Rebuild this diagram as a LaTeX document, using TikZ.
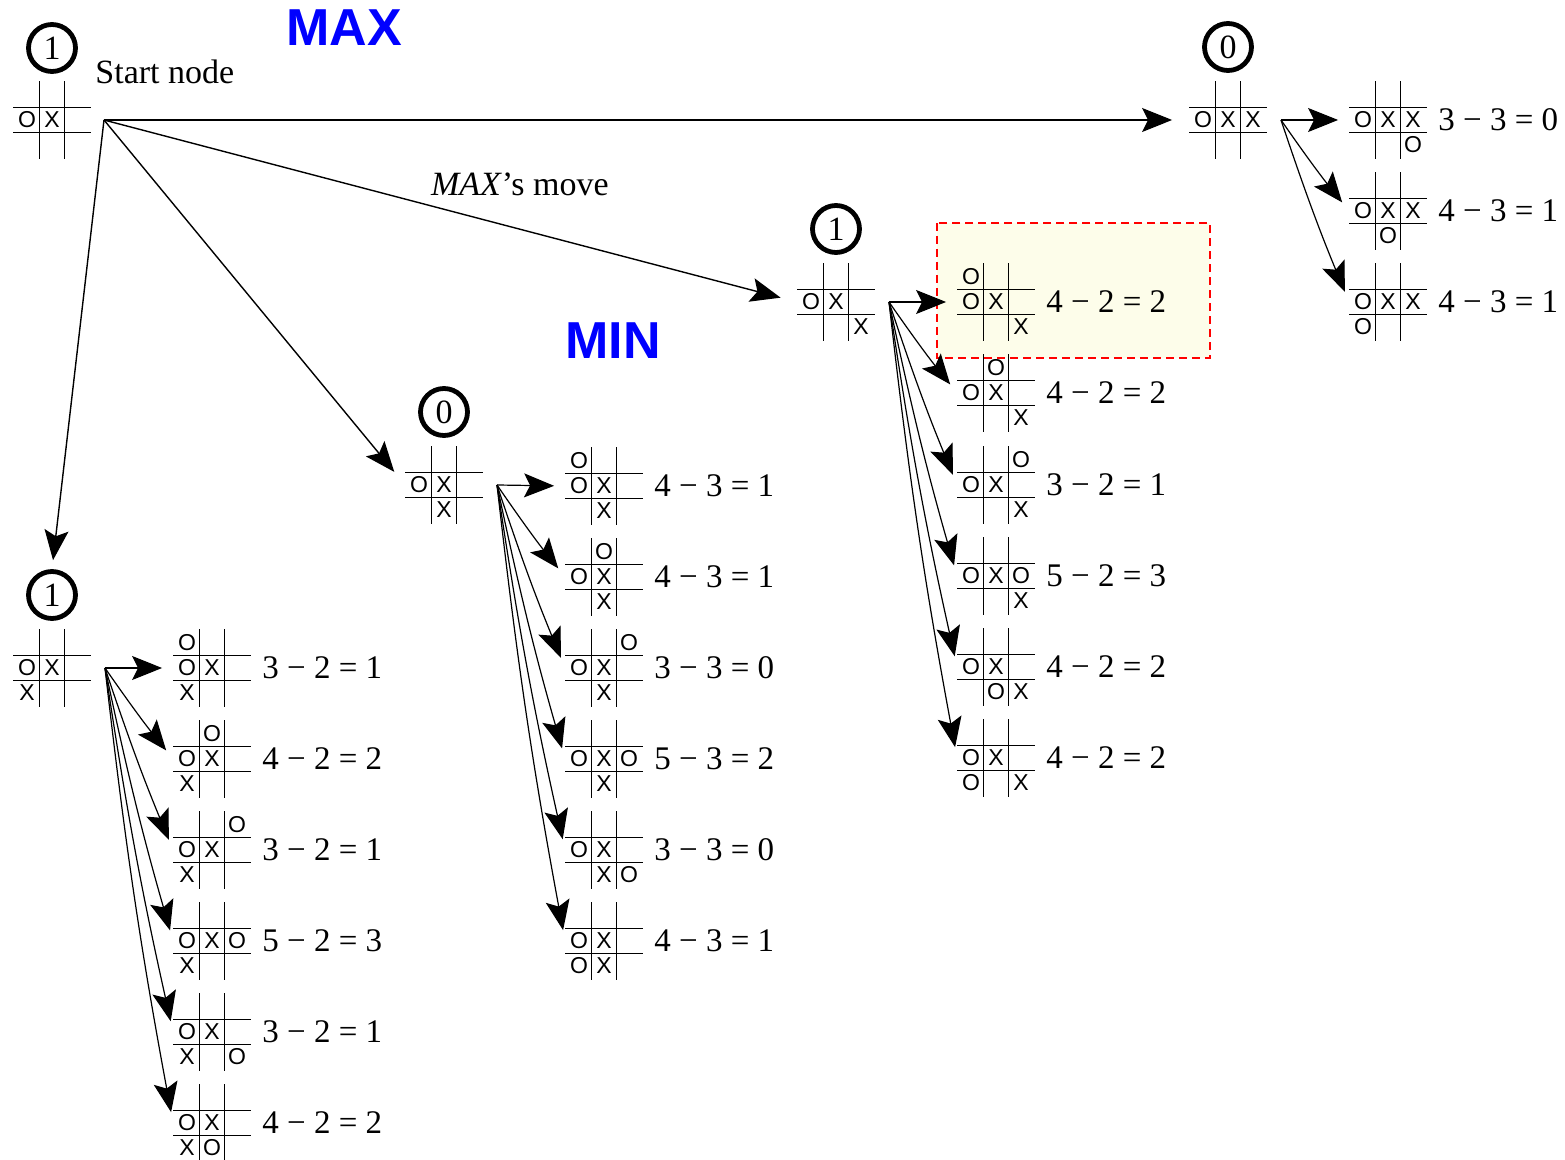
\documentclass[tikz,border=0pt]{standalone}
\usepackage{fontspec}
\setmainfont{Liberation Serif}
\newfontfamily\marksfont{Liberation Sans}
\newfontfamily\sidefont{Liberation Sans}
\usetikzlibrary{arrows.meta}
\definecolor{pickfill}{RGB}{253,253,234}

\newcommand{\tttboard}[4]{%
  \node[board] (#1) at (#2,#3) {};
  \draw[gridline] ([xshift=-6.25pt]#1.north) -- ([xshift=-6.25pt]#1.south)
                  ([xshift=6.25pt]#1.north) -- ([xshift=6.25pt]#1.south)
                  ([yshift=6.25pt]#1.west) -- ([yshift=6.25pt]#1.east)
                  ([yshift=-6.25pt]#1.west) -- ([yshift=-6.25pt]#1.east);
  \foreach \cx/\ry/\mk in {#4}
    \node[xo] at ([shift={(\cx*25,\ry*25)}]#1.center) {\mk};
}

\begin{document}
\begin{tikzpicture}[x=0.5pt, y=-0.5pt]
  \tikzstyle{board}=[rectangle, minimum size=38.5pt, inner sep=0pt]
  \tikzstyle{gridline}=[line width=0.8pt]
  \tikzstyle{xo}=[inner sep=0pt, font=\marksfont\fontsize{11.5}{11.5}\selectfont]
  \tikzstyle{val}=[circle, draw, line width=2.4pt, minimum size=23.5pt, inner sep=0pt, font=\fontsize{17}{17}\selectfont]
  \tikzstyle{score}=[anchor=west, inner sep=0pt, font=\fontsize{16.5}{17}\selectfont]
  \tikzstyle{mainmove}=[-{Stealth[length=15pt, width=12pt, inset=3pt]}, line width=0.7pt, shorten >=8.5pt]
  \tikzstyle{fan}=[-{Stealth[length=15pt, width=12pt, inset=3pt]}, line width=0.6pt, shorten >=5.5pt]
  \tikzstyle{sidelabel}=[text=blue, inner sep=0pt, font=\sidefont\bfseries\fontsize{26}{26}\selectfont]
  \useasboundingbox (0,0) rectangle (1565,1160);
  \draw[red, line width=1pt, dash pattern=on 4pt off 2.5pt, fill=pickfill] (937,223) rectangle (1210,358);

  \tttboard{R}{52}{120}{-1/0/O, 0/0/X}
  \node[val] (R-v) at ([yshift=36pt]R.center) {1};
  \node[anchor=west, inner sep=0pt, font=\fontsize{17}{17}\selectfont] (start) at ([xshift=21.5pt, yshift=24pt]R.center) {Start node};
  \coordinate (R-o) at ([xshift=26pt]R.center);

  \tttboard{A}{52}{668}{-1/0/O, 0/0/X, -1/1/X}
  \tttboard{B}{444}{485}{-1/0/O, 0/0/X, 0/1/X}
  \tttboard{C}{836}{302}{-1/0/O, 0/0/X, 1/1/X}
  \tttboard{D}{1228}{120}{-1/0/O, 0/0/X, 1/0/X}
  \foreach \b/\v in {A/1, B/0, C/1, D/0} {
    \node[val] (\b-v) at ([yshift=36.5pt]\b.center) {\v};
    \coordinate (\b-o) at ([xshift=26.5pt]\b.center);
  }

  \node[sidelabel] (maxlbl) at (344,28) {MAX};
  \node[sidelabel] (minlbl) at (613,341) {MIN};

  \draw[mainmove] (R-o) -- (D.west);
  \draw[mainmove] (R-o) -- node[pos=0.6, above=16.5pt, inner sep=0pt, font=\fontsize{17}{17}\selectfont] (movelbl) {\textit{MAX}’s move} (C.west);
  \draw[mainmove] (R-o) -- (B.west);
  \draw[mainmove, shorten >=4.5pt] (R-o) -- (A-v.north);

  \foreach \n/\yy/\ocol/\orow/\sc in {1/668/-1/-1/{3 − 2 = 1}, 2/759/0/-1/{4 − 2 = 2}, 3/850/1/-1/{3 − 2 = 1},
      4/941/1/0/{5 − 2 = 3}, 5/1032/1/1/{3 − 2 = 1}, 6/1123/0/1/{4 − 2 = 2}} {
    \tttboard{A\n}{212}{\yy}{-1/0/O, 0/0/X, -1/1/X, \ocol/\orow/O}
    \node[score] (A\n-s) at ([xshift=25pt]A\n.center) {\sc};
  }
  \foreach \n/\yy/\ocol/\orow/\sc in {1/486/-1/-1/{4 − 3 = 1}, 2/577/0/-1/{4 − 3 = 1}, 3/668/1/-1/{3 − 3 = 0},
      4/759/1/0/{5 − 3 = 2}, 5/850/1/1/{3 − 3 = 0}, 6/941/-1/1/{4 − 3 = 1}} {
    \tttboard{B\n}{604}{\yy}{-1/0/O, 0/0/X, 0/1/X, \ocol/\orow/O}
    \node[score] (B\n-s) at ([xshift=25pt]B\n.center) {\sc};
  }
  \foreach \n/\yy/\ocol/\orow/\sc in {1/302/-1/-1/{4 − 2 = 2}, 2/393/0/-1/{4 − 2 = 2}, 3/485/1/-1/{3 − 2 = 1},
      4/576/1/0/{5 − 2 = 3}, 5/667/0/1/{4 − 2 = 2}, 6/758/-1/1/{4 − 2 = 2}} {
    \tttboard{C\n}{996}{\yy}{-1/0/O, 0/0/X, 1/1/X, \ocol/\orow/O}
    \node[score] (C\n-s) at ([xshift=25pt]C\n.center) {\sc};
  }
  \foreach \n/\yy/\ocol/\orow/\sc in {1/120/1/1/{3 − 3 = 0}, 2/211/0/1/{4 − 3 = 1}, 3/302/-1/1/{4 − 3 = 1}} {
    \tttboard{D\n}{1388}{\yy}{-1/0/O, 0/0/X, 1/0/X, \ocol/\orow/O}
    \node[score] (D\n-s) at ([xshift=25pt]D\n.center) {\sc};
  }

  \foreach \p in {A, B, C} {
    \draw[fan] (\p-o) -- (\p1.west);
    \foreach \n in {2,...,6}
      \draw[fan] (\p-o) to[bend right=2] (\p\n.west);
  }
  \draw[fan] (D-o) -- (D1.west);
  \foreach \n in {2,3}
    \draw[fan] (D-o) to[bend right=2] (D\n.west);
\end{tikzpicture}
\end{document}
